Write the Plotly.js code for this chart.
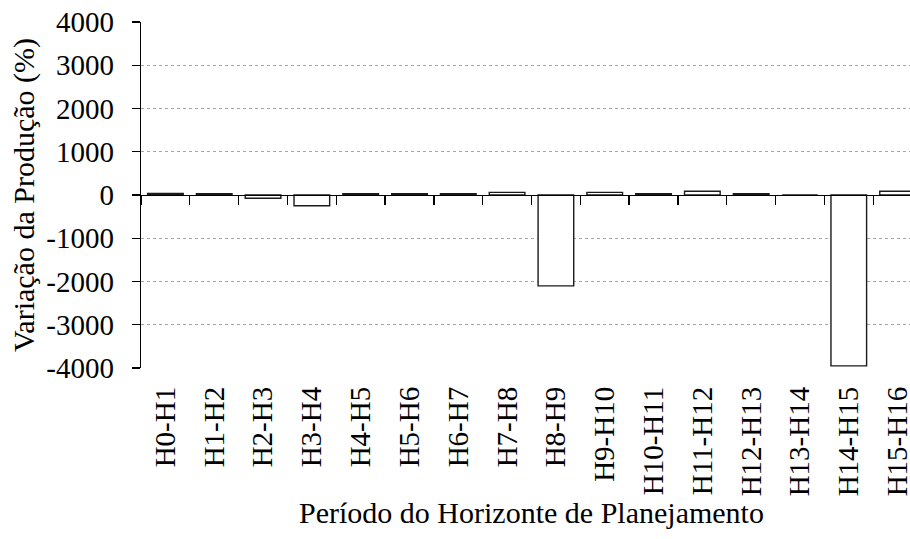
<!DOCTYPE html>
<html>
<head>
<meta charset="utf-8">
<script src="https://cdn.plot.ly/plotly-3.0.1.min.js"></script>
<style>
html,body{margin:0;padding:0;overflow:hidden;background:#fff;}
#chart{width:930px;height:539px;}
</style>
</head>
<body>
<div id="chart"></div>
<script>
var categories = ["H0-H1","H1-H2","H2-H3","H3-H4","H4-H5","H5-H6","H6-H7","H7-H8","H8-H9","H9-H10","H10-H11","H11-H12","H12-H13","H13-H14","H14-H15","H15-H16"];
var values = [35, 30, -75, -250, 30, 30, 30, 60, -2100, 60, 30, 85, 30, 0, -3950, 85];
var yTicks = [-4000, -3000, -2000, -1000, 0, 1000, 2000, 3000, 4000];

var fontFamily = "Liberation Serif";

var bars = {
  type: "bar",
  x: categories,
  y: values,
  xaxis: "x",
  yaxis: "y",
  marker: {color: "#ffffff", line: {color: "#1a1a1a", width: 1.4}},
  hoverinfo: "x+y"
};
var ghost = {
  type: "bar",
  x: categories,
  y: values,
  xaxis: "x2",
  yaxis: "y",
  marker: {color: "rgba(0,0,0,0)", line: {width: 0}},
  hoverinfo: "skip",
  showlegend: false
};

var layout = {
  width: 930,
  height: 539,
  margin: {l: 141, r: 8, t: 22, b: 171},
  paper_bgcolor: "#ffffff",
  plot_bgcolor: "#ffffff",
  showlegend: false,
  bargap: 0.27,
  font: {family: fontFamily, size: 29, color: "#000"},
  xaxis: {
    type: "category",
    range: [-0.5, 15.5],
    showline: false,
    ticks: "",
    showgrid: false,
    zeroline: false,
    tickangle: -90,
    ticklabelstandoff: 12,
    tickfont: {family: fontFamily, size: 29, color: "#000"},
    title: {text: "Período do Horizonte de Planejamento", font: {family: fontFamily, size: 30, color: "#000"}, standoff: 6}
  },
  xaxis2: {
    type: "category",
    overlaying: "x",
    anchor: "free",
    position: 0.5,
    side: "bottom",
    range: [-0.5, 15.5],
    showline: true,
    linecolor: "#000",
    linewidth: 1.3,
    ticks: "outside",
    tickson: "boundaries",
    ticklen: 9,
    tickwidth: 1.3,
    tickcolor: "#000",
    showticklabels: false,
    showgrid: false,
    zeroline: false
  },
  yaxis: {
    range: [-4000, 4000],
    tickvals: yTicks,
    ticktext: yTicks.map(String),
    showline: true,
    linecolor: "#000",
    linewidth: 1.3,
    ticks: "outside",
    ticklen: 8,
    tickwidth: 1.3,
    tickcolor: "#000",
    ticklabelstandoff: 12,
    showgrid: true,
    gridcolor: "#a6a6a6",
    griddash: "dot",
    gridwidth: 1,
    zeroline: false,
    tickfont: {family: fontFamily, size: 29, color: "#000"},
    title: {text: "Variação da Produção (%)", font: {family: fontFamily, size: 30, color: "#000"}, standoff: 2}
  }
};

Plotly.newPlot("chart", [bars, ghost], layout, {displayModeBar: false, staticPlot: true});
</script>
</body>
</html>
